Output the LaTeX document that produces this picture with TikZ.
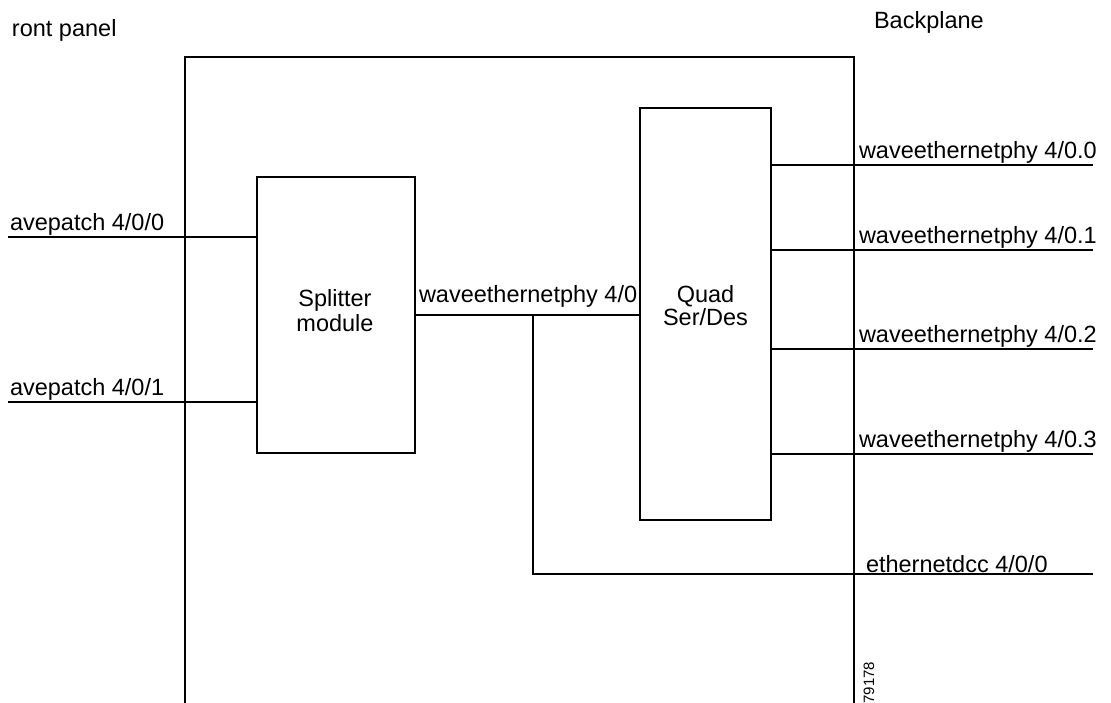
\documentclass[tikz,border=0pt]{standalone}
\usepackage{fontspec}
\setmainfont{Liberation Sans}
\begin{document}
\begin{tikzpicture}[x=1pt,y=-1pt,
  wire/.style={line width=1.2pt,black},
  block/.style={draw,line width=1.2pt,inner sep=0pt,outer sep=0pt},
  lbl/.style={inner sep=0pt,outer sep=0pt,font=\fontsize{23.5}{23.5}\selectfont},
  blocktext/.style={lbl,align=center,anchor=base,font=\fontsize{23.5}{24}\selectfont},
  tag/.style={inner sep=0pt,outer sep=0pt,font=\fontsize{15}{15}\selectfont}]
\useasboundingbox (0,0) rectangle (1111,703);

% card outline: open at the bottom
\coordinate (fl) at (185,703);
\coordinate (fr) at (854,703);
\draw[wire] (fl) |- (854,57) -- (fr);

% panel captions
\node[lbl,anchor=base west] (front) at (12,37) {ront panel};
\node[lbl,anchor=base west] (back) at (874,29) {Backplane};

% functional blocks (text anchored at the baseline of its last line)
\node[block,minimum width=158pt,minimum height=276pt] (split) at (336,315) {};
\node[block,minimum width=131pt,minimum height=412pt] (quad) at (705.5,314) {};
\node[blocktext,font=\fontsize{23.5}{25}\selectfont] (splitlbl) at (335,331.5) {Splitter\\module};
\node[blocktext,font=\fontsize{23.5}{23}\selectfont] (quadlbl) at (705.5,326) {Quad\\Ser/Des};

% front-panel inputs
\coordinate (in0) at (8,237);
\coordinate (in1) at (8,402);
\draw[wire] (in0) -- (in0 -| split.west);
\draw[wire] (in1) -- (in1 -| split.west);
\node[lbl,anchor=base west] (in0lbl) at (10,230.7) {avepatch 4/0/0};
\node[lbl,anchor=base west] (in1lbl) at (10,395.5) {avepatch 4/0/1};

% splitter to Ser/Des link, with tap to the DCC port
\coordinate (tap) at (533,315);
\draw[wire] (split.east) -- (split.east -| quad.west);
\node[lbl,anchor=base west] (midlbl) at (419,303) {waveethernetphy 4/0};
\coordinate (dcc) at (1093,574);
\draw[wire] (tap) |- (dcc);
\node[lbl,anchor=base west] (dcclbl) at (866,572) {ethernetdcc 4/0/0};

% backplane outputs
\foreach \i/\y in {0/165,1/250,2/349,3/454}{
  \coordinate (out\i) at (1093,\y);
  \draw[wire] (out\i -| quad.east) -- (out\i);
  \node[lbl,anchor=base west] (out\i lbl) at (859,\y-6.5) {waveethernetphy 4/0.\i};
}

% drawing number
\node[tag,anchor=base west,rotate=90] (num) at (874,703.5) {79178};
\end{tikzpicture}
\end{document}
